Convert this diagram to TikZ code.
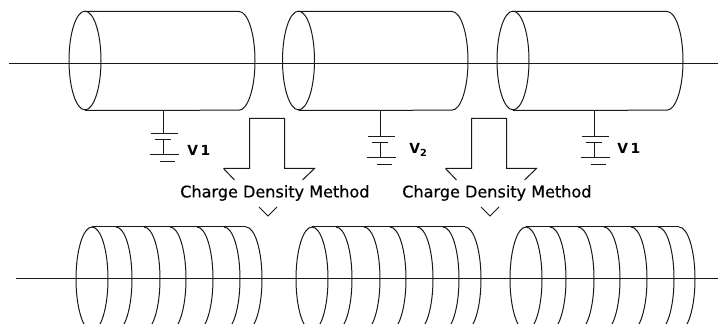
\documentclass[tikz,border=0pt]{standalone}
\usepackage{fontspec}
\setmainfont{DejaVu Sans}
\newfontfamily\methodfont[FakeBold=0.5]{DejaVu Sans}
\usepackage{tikz}
\usetikzlibrary{positioning, calc}

\begin{document}
\begin{tikzpicture}[
    x=0.75pt, y=-0.75pt,
    wire/.style={draw=black!90, line width=0.75pt},
    label/.style={inner sep=0pt, text=black, font=\fontsize{10.4}{12}\selectfont\bfseries},
    method/.style={inner sep=0pt, text=black, font=\fontsize{12.05}{14}\methodfont}
]
\clip (0,0) rectangle (718,324);

% Axis lines
\coordinate (axisa) at (9,63.5);
\coordinate (axisb) at (718,63.5);
\coordinate (axisc) at (16,278.5);
\coordinate (axisd) at (718,278.5);
\draw [wire] (axisa) -- (axisb);
\draw [wire] (axisc) -- (axisd);

% Upper cylinders
\foreach \cx/\ex in {85/239, 298.5/452, 513/667} {
    \draw [wire] (\cx,60.5) ellipse [x radius=12pt, y radius=37pt];
    \draw [wire] (\cx,11.5) -- (\ex,11.5)
        arc [start angle=90, end angle=-90, x radius=12pt, y radius=37pt] -- (\cx,110.5);
}

% Lower cylinders
\foreach \cx/\ex in {92/246, 312/465, 526/679} {
    \draw [wire] (\cx,279) ellipse [x radius=12pt, y radius=39pt];
    \draw [wire] (\cx,226.5) -- (\ex,226.5);
}
\foreach \ex in {116,144,170,197,224,246,
                 336,364,390,417,443,465,
                 550,578,604,631,658,679} {
    \draw [wire] (\ex,227) arc [start angle=90, end angle=-90, x radius=12pt, y radius=39pt];
}

% Batteries
\foreach \bx/\ya/\yb/\n in {163.5/133.5/154.5/a, 380.5/136.5/157.5/b, 594.5/136.5/157.5/c} {
    \coordinate (top\n) at (\bx,110);
    \coordinate (plate\n) at (\bx,\ya);
    \coordinate (gap\n) at (\bx,\ya+6);
    \coordinate (base\n) at (\bx,\yb);
    \draw [wire] (top\n) -- (plate\n);
    \draw [wire] (gap\n) -- (base\n);
    \draw [wire] (\bx-13,\ya) -- (\bx+14,\ya);
    \draw [wire] (\bx-9,\ya+6) -- (\bx+7,\ya+6);
    \draw [wire] (\bx-14,\yb) -- (\bx+15,\yb);
    \draw [wire] (\bx-4,\yb+7) -- (\bx+11,\yb+7);
}

\node (va) [label, anchor=west] at (187,150) {V\kern2pt 1};
\node (vb) [label, anchor=west] at (409,150) {V\textsubscript{2}};
\node (vc) [label, anchor=west] at (617,148) {V\kern2pt 1};

% Pulse arrows
\foreach \ax/\tx in {249.5/259, 471.5/481} {
    \draw [wire] (\ax-26,168.5) -- (\ax,168.5) -- (\ax,118.5) -- (\ax+35,118.5)
        -- (\ax+35,168.5) -- (\ax+65,168.5) -- (\ax+53,180);
    \draw [wire] (\ax-26,168.5) -- (\ax-15,180);
    \draw [wire] (\tx,207) -- (\tx+9,216) -- (\tx+18,207);
}

\node (cdma) [method, anchor=west] at (180,193) {Charge Density Method};
\node (cdmb) [method, anchor=west] at (402,193) {Charge Density Method};

\end{tikzpicture}
\end{document}
